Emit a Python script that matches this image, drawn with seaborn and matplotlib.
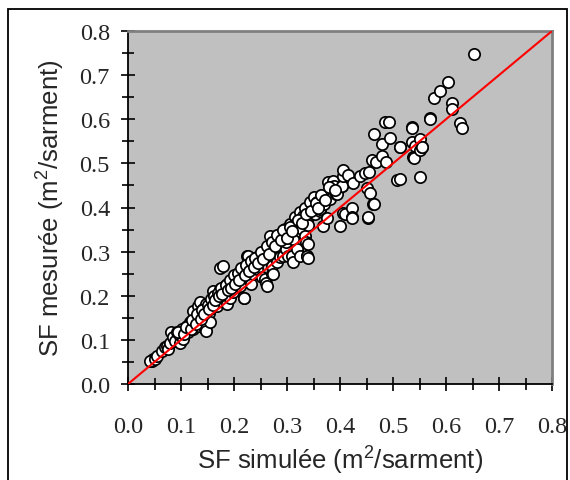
import matplotlib
matplotlib.use("Agg")
import matplotlib.pyplot as plt
import seaborn as sns
import pandas as pd
from matplotlib.patches import Rectangle
from matplotlib.ticker import MultipleLocator, FormatStrFormatter

sf_simulee = [
    0.045, 0.048, 0.042, 0.051, 0.054, 0.064, 0.070, 0.073, 0.076, 0.079,
    0.082, 0.085, 0.089, 0.092, 0.098, 0.098, 0.101, 0.104, 0.111, 0.114,
    0.117, 0.123, 0.123, 0.126, 0.133, 0.133, 0.136, 0.136, 0.139, 0.142,
    0.145, 0.145, 0.148, 0.148, 0.148, 0.152, 0.155, 0.155, 0.158, 0.161,
    0.161, 0.167, 0.167, 0.170, 0.174, 0.174, 0.177, 0.180, 0.180, 0.180,
    0.183, 0.186, 0.186, 0.189, 0.192, 0.196, 0.199, 0.205, 0.211, 0.215,
    0.218, 0.219, 0.224, 0.224, 0.227, 0.230, 0.233, 0.236, 0.236, 0.243,
    0.243, 0.249, 0.252, 0.252, 0.258, 0.258, 0.258, 0.260, 0.262, 0.265,
    0.268, 0.268, 0.271, 0.271, 0.274, 0.274, 0.277, 0.281, 0.284, 0.284,
    0.287, 0.287, 0.290, 0.290, 0.293, 0.293, 0.296, 0.296, 0.299, 0.299,
    0.302, 0.306, 0.306, 0.309, 0.312, 0.312, 0.315, 0.315, 0.318, 0.318,
    0.325, 0.325, 0.325, 0.328, 0.331, 0.334, 0.334, 0.336, 0.337, 0.337,
    0.338, 0.340, 0.340, 0.340, 0.343, 0.343, 0.350, 0.350, 0.353, 0.357,
    0.362, 0.362, 0.365, 0.368, 0.370, 0.375, 0.378, 0.381, 0.387, 0.389,
    0.392, 0.394, 0.400, 0.403, 0.404, 0.405, 0.406, 0.406, 0.409, 0.416,
    0.422, 0.422, 0.423, 0.424, 0.438, 0.448, 0.450, 0.452, 0.453, 0.455,
    0.457, 0.460, 0.463, 0.464, 0.464, 0.468, 0.479, 0.479, 0.484, 0.487,
    0.493, 0.494, 0.508, 0.513, 0.513, 0.513, 0.535, 0.536, 0.536, 0.538,
    0.540, 0.541, 0.550, 0.551, 0.551, 0.554, 0.555, 0.570, 0.570, 0.577,
    0.589, 0.604, 0.612, 0.612, 0.627, 0.630, 0.652,
    # dense band just above the 1:1 line
    0.095, 0.105, 0.110, 0.118, 0.120, 0.128, 0.130, 0.138, 0.140, 0.143,
    0.150, 0.153, 0.157, 0.160, 0.163, 0.165, 0.170, 0.172, 0.176, 0.178,
    0.185, 0.188, 0.192, 0.195, 0.200, 0.202, 0.207, 0.210, 0.213, 0.220,
    0.222, 0.228, 0.232, 0.238, 0.240, 0.246, 0.250, 0.255, 0.262, 0.266,
    0.272, 0.278, 0.282, 0.288, 0.292, 0.300, 0.305, 0.310, 0.320, 0.328,
    0.335, 0.345, 0.355, 0.358, 0.365, 0.372, 0.380, 0.390,
]
sf_mesuree = [
    0.053, 0.057, 0.051, 0.057, 0.064, 0.075, 0.083, 0.087, 0.079, 0.094,
    0.117, 0.106, 0.098, 0.117, 0.109, 0.094, 0.125, 0.102, 0.132, 0.117,
    0.140, 0.125, 0.166, 0.147, 0.132, 0.177, 0.159, 0.185, 0.140, 0.170,
    0.125, 0.162, 0.132, 0.181, 0.121, 0.162, 0.140, 0.170, 0.174, 0.193,
    0.211, 0.185, 0.177, 0.204, 0.215, 0.264, 0.193, 0.208, 0.268, 0.185,
    0.223, 0.181, 0.227, 0.200, 0.196, 0.234, 0.208, 0.242, 0.223, 0.253,
    0.196, 0.196, 0.261, 0.291, 0.291, 0.272, 0.227, 0.279, 0.249, 0.287,
    0.261, 0.287, 0.295, 0.242, 0.302, 0.298, 0.238, 0.230, 0.223, 0.310,
    0.336, 0.310, 0.249, 0.268, 0.317, 0.249, 0.325, 0.276, 0.321, 0.310,
    0.340, 0.287, 0.329, 0.332, 0.291, 0.344, 0.344, 0.351, 0.306, 0.321,
    0.291, 0.363, 0.347, 0.291, 0.329, 0.277, 0.378, 0.363, 0.306, 0.359,
    0.389, 0.347, 0.291, 0.351, 0.381, 0.400, 0.336, 0.321, 0.370, 0.291,
    0.291, 0.317, 0.286, 0.360, 0.412, 0.385, 0.423, 0.393, 0.385, 0.412,
    0.393, 0.397, 0.415, 0.359, 0.408, 0.377, 0.457, 0.419, 0.461, 0.449,
    0.431, 0.431, 0.359, 0.449, 0.449, 0.472, 0.486, 0.388, 0.385, 0.474,
    0.399, 0.378, 0.377, 0.456, 0.472, 0.478, 0.445, 0.377, 0.378, 0.481,
    0.433, 0.508, 0.408, 0.409, 0.567, 0.502, 0.544, 0.517, 0.594, 0.504,
    0.594, 0.558, 0.463, 0.536, 0.465, 0.536, 0.582, 0.581, 0.549, 0.514,
    0.512, 0.540, 0.555, 0.468, 0.531, 0.536, 0.536, 0.603, 0.600, 0.648,
    0.663, 0.685, 0.637, 0.623, 0.591, 0.581, 0.749,
    # dense band just above the 1:1 line
    0.118, 0.114, 0.130, 0.125, 0.145, 0.135, 0.158, 0.148, 0.168, 0.158,
    0.178, 0.170, 0.192, 0.178, 0.200, 0.190, 0.206, 0.200, 0.218, 0.205,
    0.225, 0.212, 0.236, 0.218, 0.246, 0.226, 0.252, 0.236, 0.262, 0.248,
    0.270, 0.256, 0.278, 0.265, 0.286, 0.274, 0.300, 0.284, 0.312, 0.294,
    0.322, 0.312, 0.338, 0.326, 0.348, 0.332, 0.356, 0.346, 0.372, 0.366,
    0.386, 0.392, 0.410, 0.398, 0.428, 0.418, 0.446, 0.440,
]

axis_ticks = [0.0, 0.1, 0.2, 0.3, 0.4, 0.5, 0.6, 0.7, 0.8]

df = pd.DataFrame({"simulee": sf_simulee, "mesuree": sf_mesuree})

sns.set_style("white")
plt.rcParams["font.family"] = ["Liberation Serif", "DejaVu Serif"]
plt.rcParams["mathtext.fontset"] = "custom"
plt.rcParams["mathtext.rm"] = "Liberation Sans"
plt.rcParams["mathtext.default"] = "rm"

fig = plt.figure(figsize=(5.70, 4.81), dpi=100)
ax = fig.add_axes([128 / 570, 1 - 385 / 481, 424 / 570, 353 / 481])
ax.set_facecolor("#c0c0c0")

sns.scatterplot(data=df, x="simulee", y="mesuree", ax=ax, color="white",
                edgecolor="black", linewidth=1.25, s=66, zorder=3, clip_on=False)
ax.plot([axis_ticks[0], axis_ticks[-1]], [axis_ticks[0], axis_ticks[-1]],
        color="red", lw=1.5, zorder=4)

ax.set_xlim(axis_ticks[0], axis_ticks[-1])
ax.set_ylim(axis_ticks[0], axis_ticks[-1])
ax.set_xticks(axis_ticks)
ax.set_yticks(axis_ticks)
ax.xaxis.set_minor_locator(MultipleLocator(0.05))
ax.yaxis.set_minor_locator(MultipleLocator(0.05))
ax.xaxis.set_major_formatter(FormatStrFormatter("%.1f"))
ax.yaxis.set_major_formatter(FormatStrFormatter("%.1f"))

ax.tick_params(which="both", direction="inout", color="black", width=1.2,
               bottom=True, left=True, top=False, right=False)
ax.tick_params(which="major", length=10, labelsize=17.5)
ax.tick_params(which="minor", length=8)
ax.tick_params(axis="x", which="major", pad=18)
ax.tick_params(axis="y", which="major", pad=8)

for side in ["left", "bottom"]:
    ax.spines[side].set_color("black")
    ax.spines[side].set_linewidth(1.3)
for side in ["top", "right"]:
    ax.spines[side].set_color("#808080")
    ax.spines[side].set_linewidth(2)

label_font = {"family": ["Liberation Sans", "DejaVu Sans"], "size": 18.5}
ax.set_xlabel("SF simulée (m$^2$/sarment)", fontdict=label_font, labelpad=5)
ax.set_ylabel("SF mesurée (m$^2$/sarment)", fontdict=label_font, labelpad=9)

# outer frame around the whole chart (bottom edge runs off the picture)
fig.patches.append(Rectangle((8 / 570, -0.05), 559 / 570, 1.05 - 10 / 481,
                             transform=fig.transFigure, fill=False,
                             edgecolor="black", lw=1.3, zorder=10))

fig.savefig("out.png", dpi=100)
